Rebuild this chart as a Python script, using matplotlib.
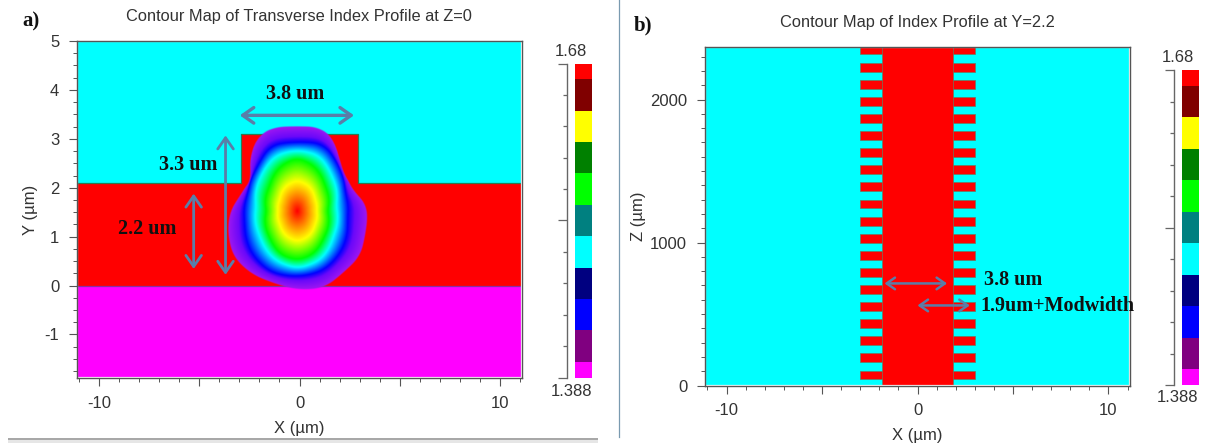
import numpy as np
import matplotlib
matplotlib.use('Agg')
import matplotlib.pyplot as plt
from matplotlib.colors import ListedColormap, BoundaryNorm, LinearSegmentedColormap
from matplotlib.patches import Rectangle
from matplotlib.ticker import MultipleLocator, FixedLocator, FixedFormatter, NullFormatter

plt.rcParams['font.family'] = ['Liberation Sans', 'DejaVu Sans']

# NOTE: index levels and geometry
index_min = 1.388
index_max = 1.68
bar_colors = ['#ff00ff', '#800080', '#0000ff', '#000080', '#00ffff', '#008080',
              '#00ff00', '#008000', '#ffff00', '#800000', '#ff0000']
bar_edges = [1.388, 1.4026, 1.4318, 1.461, 1.4902, 1.5194, 1.5486, 1.5778, 1.607, 1.6362, 1.6654, 1.68]
bar_major = [1.388, 1.534, 1.68]
bar_minor = [1.4172, 1.4464, 1.4756, 1.5048, 1.5632, 1.5924, 1.6216, 1.6508]

x_major = [-10, -5, 0, 5, 10]
x_labels = ['-10', '', '0', '', '10']
y_major = [-1, 0, 1, 2, 3, 4, 5]
y_labels = ['-1', '0', '1', '2', '3', '4', '5']

slab_top = 2.1
ridge_top = 3.1
ridge_half = 2.9
core_half = 1.85
tooth_half = 3.0
tooth_start = [42, 162, 282, 401, 521, 641, 760, 880, 1000, 1119, 1239, 1359, 1478,
               1598, 1718, 1837, 1957, 2077, 2196, 2316]
tooth_height = 62

# mode outlines in um, outside to centre, with the relative field level of each
mode_centre = (-0.11, 1.52)
mode_rings = [
    (0.0, [(-1.31, 3.23), (-0.14, 3.25), (1.02, 3.23), (1.68, 3.02), (1.88, 2.72), (2.18, 2.31),
           (2.68, 1.93), (3.35, 1.62), (3.26, 1.01), (3.01, 0.60), (2.18, 0.26), (1.19, -0.05),
           (0.02, -0.09), (-1.31, 0.05), (-2.47, 0.26), (-3.30, 0.60), (-3.55, 1.01), (-3.47, 1.49),
           (-2.97, 1.83), (-2.39, 2.17), (-2.39, 2.72), (-1.97, 3.09)]),
    (0.2, [(-0.11, 2.92), (1.19, 2.87), (1.93, 2.44), (2.27, 1.90), (2.38, 1.35), (2.10, 0.73),
           (1.19, 0.32), (-0.11, 0.19), (-1.47, 0.29), (-2.39, 0.67), (-2.72, 1.28), (-2.55, 1.90),
           (-2.05, 2.44), (-1.39, 2.85)]),
    (0.4, [(-0.11, 2.75), (0.94, 2.65), (1.60, 2.24), (1.82, 1.62), (1.68, 1.01), (1.02, 0.53),
           (-0.11, 0.36), (-1.22, 0.53), (-1.97, 1.01), (-2.14, 1.62), (-1.89, 2.24), (-1.14, 2.65)]),
    (0.6, [(-0.11, 2.59), (0.69, 2.44), (1.27, 2.03), (1.39, 1.52), (1.19, 0.97), (0.60, 0.63),
           (-0.11, 0.53), (-0.89, 0.63), (-1.47, 0.97), (-1.64, 1.52), (-1.47, 2.03), (-0.89, 2.44)]),
    (0.8, [(-0.11, 2.13), (0.44, 2.03), (0.77, 1.76), (0.85, 1.52), (0.77, 1.25), (0.44, 1.01),
           (-0.11, 0.91), (-0.64, 1.01), (-0.97, 1.25), (-1.06, 1.52), (-0.97, 1.76), (-0.64, 2.03)]),
]

CYAN = '#00ffff'
RED = '#ff0000'
MAGENTA = '#ff00ff'
ARROW = '#5a7ea8'
AXIS = '#555555'
TEXT = '#333333'

mode_cmap = LinearSegmentedColormap.from_list('mode', [
    (0.0, '#a018f0'), (0.13, '#6a08fa'), (0.2, '#0000ff'), (0.4, '#00ffff'),
    (0.6, '#00ff00'), (0.8, '#ffff00'), (1.0, '#ff0000')])

W, H = 1205, 443
fig = plt.figure(figsize=(W / 100, H / 100), dpi=100)


def px_axes(left, top, right, bottom):
    return fig.add_axes([left / W, 1 - bottom / H, (right - left) / W, (bottom - top) / H])


def style_axes(ax):
    for s in ax.spines.values():
        s.set_color(AXIS)
        s.set_linewidth(1.0)
    ax.add_patch(Rectangle((0, 0), 1, 1, transform=ax.transAxes, fill=False, ec='white', lw=1.6, zorder=2.4))
    ax.tick_params(which='major', length=5.8, width=0.8, color=AXIS, labelsize=12, labelcolor=TEXT, pad=7)
    ax.tick_params(which='minor', length=2.9, width=0.7, color=AXIS)
    ax.xaxis.set_major_locator(FixedLocator(x_major))
    ax.xaxis.set_major_formatter(FixedFormatter(x_labels))
    ax.xaxis.set_minor_locator(MultipleLocator(1))
    ax.set_xlabel('X (\u00b5m)', fontsize=12, color=TEXT, labelpad=7)


def colorbar(ax):
    ax.pcolormesh([0, 1], bar_edges, np.array(bar_edges[:-1])[:, None] + 1e-6,
                  cmap=ListedColormap(bar_colors), norm=BoundaryNorm(bar_edges, len(bar_colors)))
    ax.set_ylim(index_min, index_max)
    ax.set_xticks([])
    for name in ('top', 'right', 'bottom'):
        ax.spines[name].set_visible(False)
    ax.spines['left'].set_position(('outward', 6))
    ax.spines['left'].set_color('#666666')
    ax.spines['left'].set_linewidth(1.0)
    ax.set_yticks(bar_major)
    ax.set_yticks(bar_minor, minor=True)
    ax.yaxis.set_major_formatter(NullFormatter())
    ax.tick_params(which='major', length=6.3, width=0.9, color='#666666')
    ax.tick_params(which='minor', length=2.7, width=0.9, color='#666666')


def double_arrow(ax, start, end, lw, size):
    ax.annotate('', xy=end, xytext=start,
                arrowprops=dict(arrowstyle='<->,head_length=%g,head_width=%g' % (size, size * 0.7),
                                color=ARROW, lw=lw, shrinkA=0, shrinkB=0), zorder=6)


def mode_image():
    # turn the outlines into a smooth field: radius of each outline against angle,
    # then the level of each pixel from where it falls between the outlines
    y_scale = 2.43
    theta_grid = np.linspace(-np.pi, np.pi, 720, endpoint=False)
    kernel = np.ones(31) / 31
    radii = []
    levels = []
    for level, points in mode_rings:
        pts = np.array(points)
        dx = pts[:, 0] - mode_centre[0]
        dy = (pts[:, 1] - mode_centre[1]) * y_scale
        r = np.interp(theta_grid, np.arctan2(dy, dx), np.hypot(dx, dy), period=2 * np.pi)
        r = np.convolve(np.r_[r[-31:], r, r[:31]], kernel, mode='same')[31:-31]
        radii.append(r)
        levels.append(level)
    radii.append(np.zeros(720))
    levels.append(1.0)
    radii = np.array(radii)

    xs = np.linspace(-4, 4, 641)
    ys = np.linspace(-0.4, 3.6, 481)
    gx, gy = np.meshgrid(xs, ys)
    dx = gx - mode_centre[0]
    dy = (gy - mode_centre[1]) * y_scale
    rr = np.hypot(dx, dy)
    idx = ((np.arctan2(dy, dx) + np.pi) / (2 * np.pi) * 720).astype(int) % 720
    field = np.zeros(rr.shape)
    for k in range(len(levels) - 1):
        outer = radii[k][idx]
        inner = radii[k + 1][idx]
        inside = (rr <= outer) & (rr >= inner)
        field[inside] = (levels[k] + (levels[k + 1] - levels[k]) * (outer - rr) / (outer - inner))[inside]
    rgba = mode_cmap(field)
    rgba[..., 3] = np.clip((radii[0][idx] - rr) / 0.06, 0, 1)
    return rgba, (xs[0], xs[-1], ys[0], ys[-1])


serif = dict(family='Liberation Serif', weight='bold', color='#111111', zorder=7)

# NOTE: panel a, transverse profile
ax = px_axes(77, 41, 522, 378)
ax.set_facecolor(CYAN)
ax.axhspan(-1.89, 0, color=MAGENTA, lw=0)
ax.axhspan(0, slab_top, color=RED, lw=0)
ax.fill_between([-ridge_half, ridge_half], slab_top, ridge_top, color=RED, lw=0)
ax.plot([-11.1, -ridge_half, -ridge_half, ridge_half, ridge_half, 11.1],
        [slab_top, slab_top, ridge_top, ridge_top, slab_top, slab_top], color='#2c7a50', lw=0.9)
ax.axhline(0, color='#8a30a0', lw=0.9)
mode_rgba, mode_extent = mode_image()
ax.imshow(mode_rgba, extent=mode_extent, origin='lower', aspect='auto', zorder=3, interpolation='bilinear')
ax.set_xlim(-11.1, 11.1)
ax.set_ylim(-1.89, 5.0)

style_axes(ax)
ax.yaxis.set_major_locator(FixedLocator(y_major))
ax.yaxis.set_major_formatter(FixedFormatter(y_labels))
ax.yaxis.set_minor_locator(MultipleLocator(0.25))
ax.set_ylabel('Y (\u00b5m)', fontsize=12, color=TEXT, labelpad=5)
double_arrow(ax, (-2.98, 3.48), (2.72, 3.48), 2.4, 0.8)
double_arrow(ax, (-3.69, 3.07), (-3.69, 0.22), 2.0, 0.8)
double_arrow(ax, (-5.28, 1.88), (-5.28, 0.34), 2.0, 0.8)
fig.text(295 / W, 1 - 94 / H, '3.8 um', fontsize=14.5, ha='center', va='center', **serif)
fig.text(188 / W, 1 - 165 / H, '3.3 um', fontsize=14.5, ha='center', va='center', **serif)
fig.text(147 / W, 1 - 229 / H, '2.2 um', fontsize=14.5, ha='center', va='center', **serif)
fig.text(299 / W, 1 - 17 / H, 'Contour Map of Transverse Index Profile at Z=0', fontsize=11.8,
         ha='center', va='center', color=TEXT)
fig.text(31 / W, 1 - 21 / H, 'a)', fontsize=15, ha='center', va='center', **serif)

# NOTE: panel b, top view of the grating
bx = px_axes(705, 47, 1130, 385.5)
bx.set_xlim(-11.13, 11.13)
bx.set_ylim(0, 2368)
bx.set_facecolor(CYAN)
for z in tooth_start:
    bx.fill_between([-tooth_half, tooth_half], z, z + tooth_height, color=RED, ec='#6a7a60', lw=0.5)
bx.fill_between([-core_half, core_half], 0, 2368, color=RED, ec='#6a7a60', lw=0.5)
style_axes(bx)
bx.yaxis.set_major_locator(MultipleLocator(1000))
bx.yaxis.set_minor_locator(MultipleLocator(100))
bx.set_ylabel('Z (\u00b5m)', fontsize=12, color=TEXT, labelpad=3)
double_arrow(bx, (-1.73, 714), (1.55, 714), 1.8, 0.6)
double_arrow(bx, (0, 560), (2.74, 560), 1.8, 0.6)
fig.text(984 / W, 1 - 280 / H, '3.8 um', fontsize=14.5, ha='left', va='center', **serif)
fig.text(980 / W, 1 - 306 / H, '1.9um+Modwidth', fontsize=14.5, ha='left', va='center', **serif)
fig.text(917.5 / W, 1 - 23 / H, 'Contour Map of Index Profile at Y=2.2', fontsize=11.8,
         ha='center', va='center', color=TEXT)
fig.text(643 / W, 1 - 25 / H, 'b)', fontsize=15, ha='center', va='center', **serif)

# NOTE: colour bars
colorbar(px_axes(575, 63.5, 592, 377.5))
colorbar(px_axes(1182, 70, 1198.5, 385))
fig.text(571 / W, 1 - 52 / H, '1.68', fontsize=12, ha='center', va='center', color=TEXT)
fig.text(571 / W, 1 - 391 / H, '1.388', fontsize=12, ha='center', va='center', color=TEXT)
fig.text(1178 / W, 1 - 58 / H, '1.68', fontsize=12, ha='center', va='center', color=TEXT)
fig.text(1178 / W, 1 - 398 / H, '1.388', fontsize=12, ha='center', va='center', color=TEXT)

# divider between the two screenshots and the strip under panel a
fig.add_artist(plt.Line2D([618.5 / W, 618.5 / W], [1 - 437 / H, 1], color='#7a9ab0', lw=0.9))
fig.add_artist(Rectangle((8 / W, 0), 590 / W, 5 / H, color='#e6e6e6', lw=0))
fig.add_artist(Rectangle((8 / W, 3 / H), 590 / W, 2 / H, color='#a8a8a8', lw=0))

fig.savefig('out.png', dpi=100)
